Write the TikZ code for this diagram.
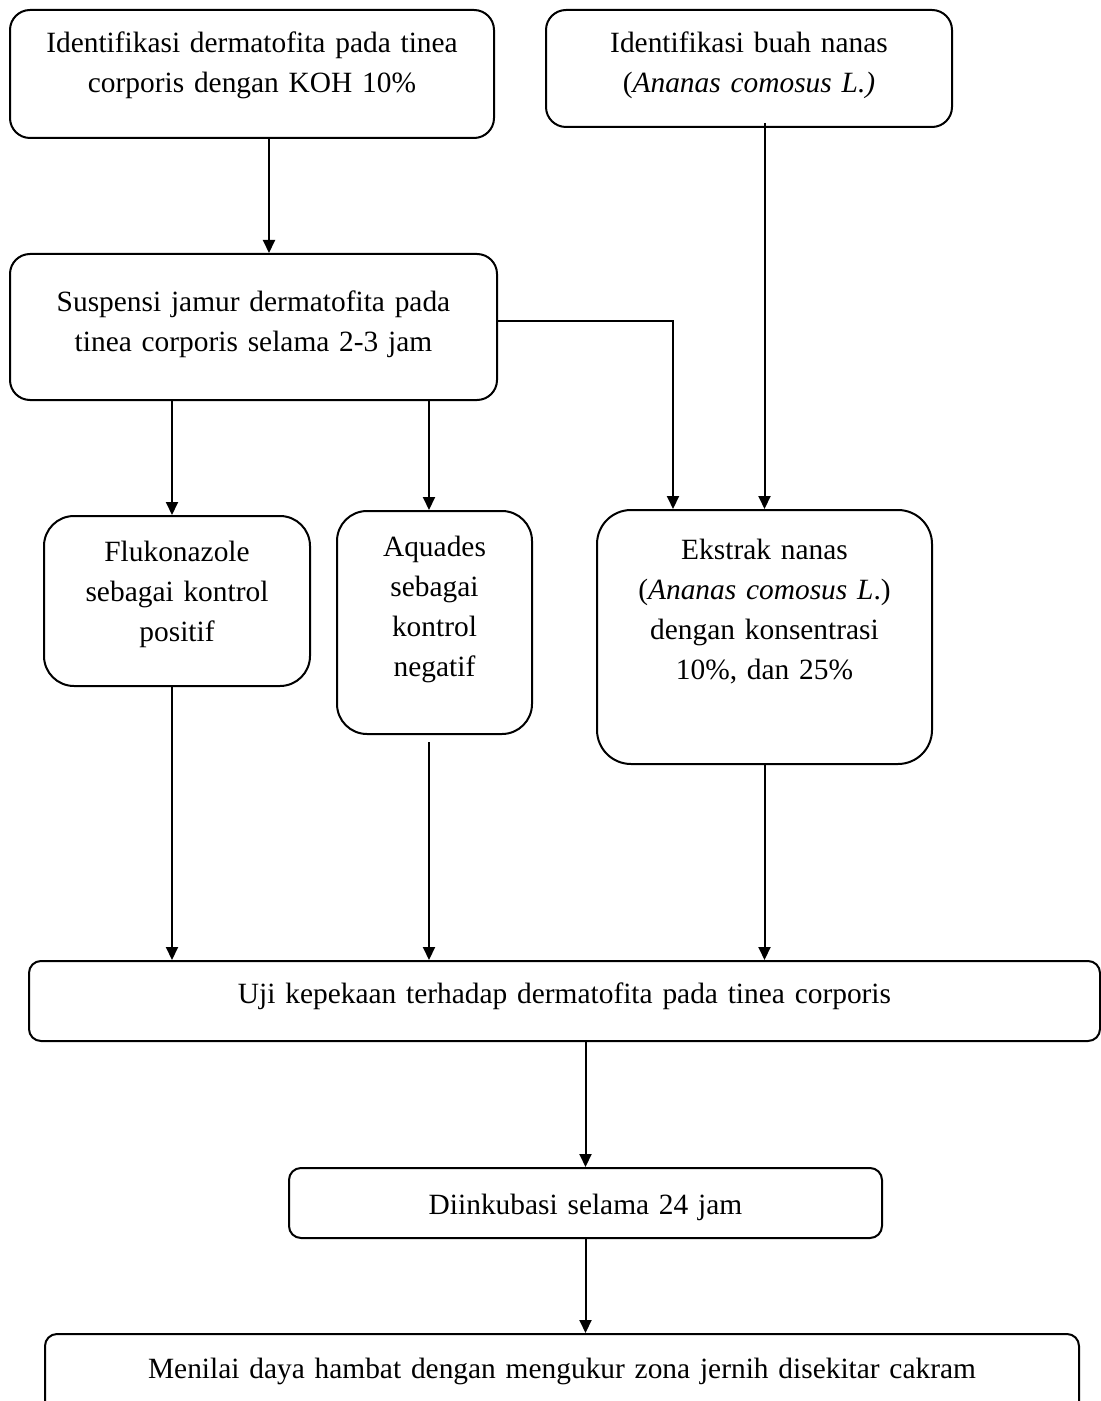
\documentclass[tikz,border=0pt]{standalone}
\usepackage{fontspec}
\setmainfont{Liberation Serif}
\usetikzlibrary{positioning, arrows.meta}

\tikzstyle{process} = [rectangle, draw=black, line width=1pt, inner sep=0pt, align=center, anchor=north west, font=\fontsize{14.7pt}{20pt}\selectfont]
\tikzstyle{arrow} = [line width=1pt,-{Triangle[length=6.5pt,width=6pt]}]

\begin{document}
\begin{tikzpicture}[x=0.5pt, y=-0.5pt]

\useasboundingbox (0,0) rectangle (1101,1401);

\node (IdentDerm) [process, rounded corners=10pt, text width=242pt, text height=21.5pt, text depth=42.5pt] at (9,9) {Identifikasi dermatofita pada tinea\\corporis dengan KOH 10\%};

\node (IdentNanas) [process, rounded corners=10pt, text width=203pt, text height=21.5pt, text depth=37pt] at (545,9) {Identifikasi buah nanas\\(\textit{Ananas comosus L.)}};

\node (Suspensi) [process, rounded corners=10pt, text width=243.5pt, text height=29pt, text depth=44pt] at (9,253) {Suspensi jamur dermatofita pada\\tinea corporis selama 2-3 jam};

\node (Fluko) [process, rounded corners=15pt, text width=133pt, text height=22.5pt, text depth=62.5pt] at (43,515) {Flukonazole\\sebagai kontrol\\positif};

\node (Aquades) [process, rounded corners=15pt, text width=97.5pt, text height=22.5pt, text depth=89pt] at (336,510) {Aquades\\sebagai\\kontrol\\negatif};

\node (Ekstrak) [process, rounded corners=17pt, text width=167.5pt, text height=24.5pt, text depth=102.5pt] at (596,509) {Ekstrak nanas\\(\textit{Ananas comosus L}.)\\dengan konsentrasi\\10\%, dan 25\%};

\node (Uji) [process, rounded corners=6pt, text width=535.5pt, text height=21pt, text depth=19pt] at (28,960) {Uji kepekaan terhadap dermatofita pada tinea corporis};

\node (Inkubasi) [process, rounded corners=6pt, text width=296.5pt, text height=23pt, text depth=12pt] at (288,1167) {Diinkubasi selama 24 jam};

\node (Menilai) [process, rounded corners=6pt, text width=517pt, text height=22pt, text depth=25pt] at (44,1333) {Menilai daya hambat dengan mengukur zona jernih disekitar cakram};

\draw [arrow] ([xshift=8.5pt]IdentDerm.south) -- ([xshift=8.5pt]IdentDerm.south |- Suspensi.north);
\draw [arrow] ([yshift=2.5pt]Ekstrak.north |- IdentNanas.south) -- (Ekstrak.north);
\draw [arrow] ([yshift=3pt]Suspensi.east) -| ([xshift=-45.75pt]Ekstrak.north);

\draw [arrow] ([xshift=-2.5pt]Fluko.north |- Suspensi.south) -- ([xshift=-2.5pt]Fluko.north);
\draw [arrow] ([xshift=-2.75pt]Aquades.north |- Suspensi.south) -- ([xshift=-2.75pt]Aquades.north);

\draw [arrow] ([xshift=-2.5pt]Fluko.south) -- ([xshift=-2.5pt]Fluko.south |- Uji.north);
\draw [arrow] ([xshift=-2.75pt,yshift=-3.5pt]Aquades.south) -- ([xshift=-2.75pt]Aquades.south |- Uji.north);
\draw [arrow] (Ekstrak.south) -- (Ekstrak.south |- Uji.north);

\draw [arrow] (Inkubasi.north |- Uji.south) -- (Inkubasi.north);
\draw [arrow] (Inkubasi.south) -- (Inkubasi.south |- Menilai.north);

\end{tikzpicture}
\end{document}
